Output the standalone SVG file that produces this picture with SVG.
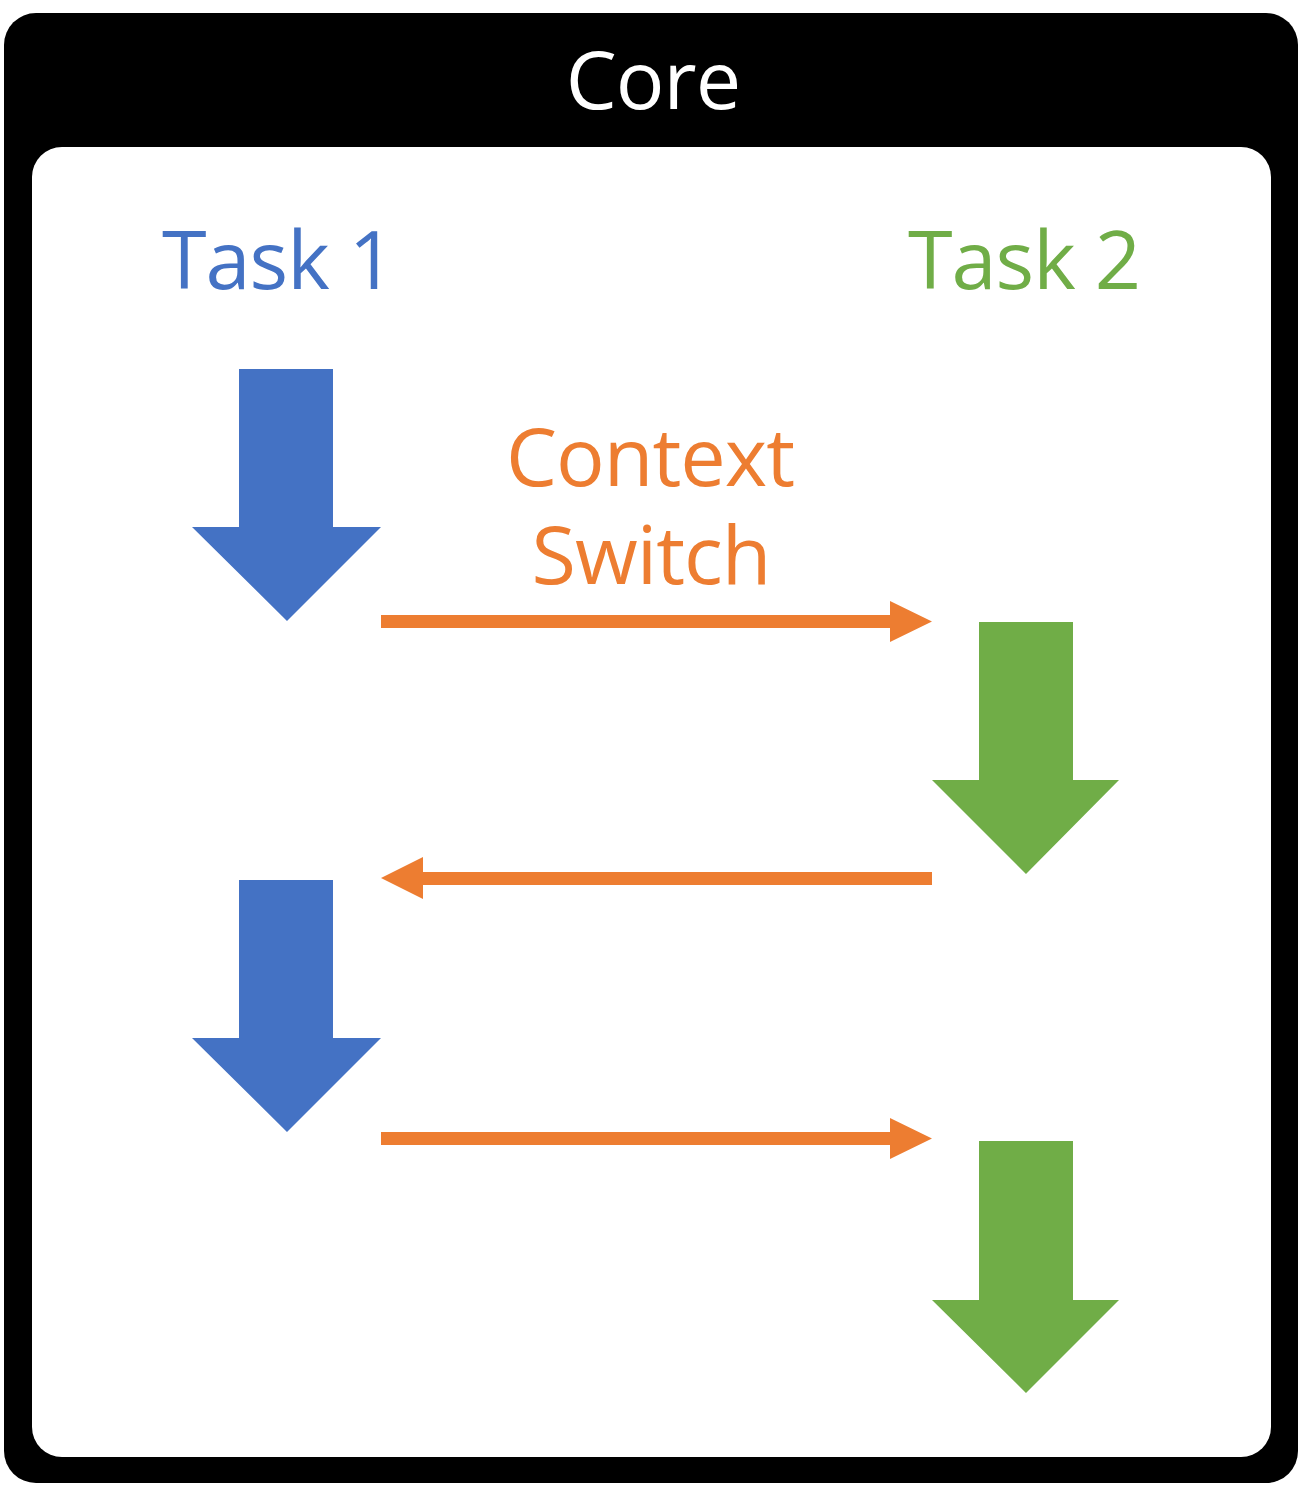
<svg xmlns="http://www.w3.org/2000/svg" width="1301" height="1485" viewBox="0 0 1301 1485">
<style>
text{font-family:"Open Sans","Noto Sans","DejaVu Sans",sans-serif;text-anchor:middle}
.t{font-size:81px;letter-spacing:-1px}
.blue{fill:#4472C4}
.green{fill:#70AD47}
.orange{fill:#ED7D31}
</style>
<rect width="1301" height="1485" fill="#ffffff"/>
<g id="core">
<rect x="4" y="13" width="1294" height="1470" rx="32" ry="32" fill="#000000"/>
<rect x="32" y="147" width="1239" height="1310" rx="30" ry="30" fill="#ffffff"/>
<text x="653" y="109" class="t" fill="#ffffff">Core</text>
</g>
<g id="task1-label"><text x="278" y="289" class="t blue">Task 1</text></g>
<g id="task2-label"><text x="1024" y="289" class="t green">Task 2</text></g>
<g id="cs-label"><text class="t orange"><tspan x="650" y="486">Context</tspan><tspan x="651" y="584">Switch</tspan></text></g>
<g id="task1-run1"><polygon class="blue" points="239,369 333,369 333,527 381,527 287,621 192,527 239,527"/></g>
<g id="task2-run1"><polygon class="green" points="979,622 1073,622 1073,780 1119,780 1026,874 932,780 979,780"/></g>
<g id="task1-run2"><polygon class="blue" points="239,880 333,880 333,1038 381,1038 287,1132 192,1038 239,1038"/></g>
<g id="task2-run2"><polygon class="green" points="979,1141 1073,1141 1073,1300 1119,1300 1026,1393 932,1300 979,1300"/></g>
<g id="connectors">
<polygon class="orange" points="381,615 890,615 890,601 932,621.5 890,642 890,628 381,628"/>
<polygon class="orange" points="932,872 423,872 423,857 381,878 423,899 423,885 932,885"/>
<polygon class="orange" points="381,1132 890,1132 890,1118 932,1138.5 890,1159 890,1145 381,1145"/>
</g>
</svg>
